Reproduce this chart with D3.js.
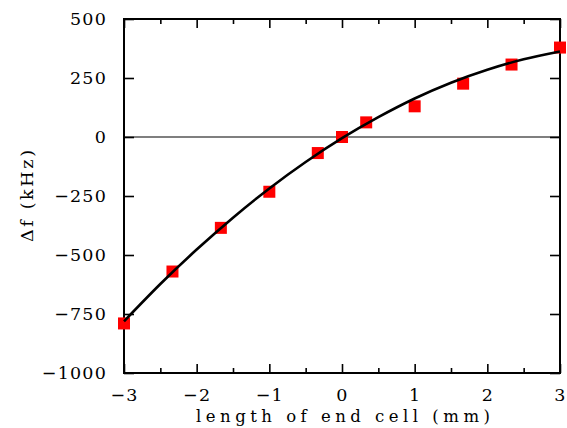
<!DOCTYPE html>
<html><head><meta charset="utf-8">
<script src="https://cdn.jsdelivr.net/npm/d3@7"></script>
<style>body{margin:0;background:#fff}svg{display:block}</style>
</head><body>
<script>
// measured points
const xData = [-3, -2.333, -1.667, -1, -0.333, 0, 0.333, 1, 1.667, 2.333, 3];
const yData = [-790, -570, -385, -232, -68, 0, 62, 130, 226, 307, 379];
// fitted curve
const xCurve = [-3, -2.5, -2, -1.5, -1, -0.5, 0, 0.5, 1, 1.5, 2, 2.5, 3];
const yCurve = [-781, -623, -477, -342, -218, -106, -5, 84, 163, 230, 285, 329, 362];
const xTicks = [-3, -2, -1, 0, 1, 2, 3];
const xMinor = [-2.5, -1.5, -0.5, 0.5, 1.5, 2.5];
const yTicks = [-1000, -750, -500, -250, 0, 250, 500];
const xTitle = "length of end cell (mm)";
const yTitle = "\u0394f (kHz)";

const W = 567, H = 428;
const L = 124, R = 560, T = 19, B = 373;
const font = "'DejaVu Serif', serif";
const fmt = v => (v < 0 ? "\u2212" + Math.abs(v) : String(v));

const svg = d3.select("body").append("svg").attr("width", W).attr("height", H);
const x = d3.scaleLinear().domain([-3, 3]).range([L, R]);
const y = d3.scaleLinear().domain([-1000, 500]).range([B, T]);

// zero line
svg.append("line").attr("x1", L).attr("x2", R).attr("y1", y(0)).attr("y2", y(0))
  .attr("stroke", "#555").attr("stroke-width", 1.3);

// axes with inward ticks
const axB = d3.axisBottom(x).tickValues(xTicks).tickSizeInner(-9).tickSizeOuter(0).tickFormat(fmt).tickPadding(15.5);
const axBm = d3.axisBottom(x).tickValues(xMinor).tickSizeInner(-5).tickSizeOuter(0).tickFormat("");
const axT = d3.axisTop(x).tickValues(xTicks).tickSizeInner(-9).tickSizeOuter(0).tickFormat("");
const axTm = d3.axisTop(x).tickValues(xMinor).tickSizeInner(-5).tickSizeOuter(0).tickFormat("");
const axL = d3.axisLeft(y).tickValues(yTicks).tickSizeInner(-10).tickSizeOuter(0).tickFormat(fmt).tickPadding(17);
const axR = d3.axisRight(y).tickValues(yTicks).tickSizeInner(-10).tickSizeOuter(0).tickFormat("");

function styleAx(g) {
  g.select(".domain").remove();
  g.selectAll(".tick line").attr("stroke", "#000").attr("stroke-width", 1.6);
  g.selectAll("text").attr("font-family", font).attr("font-size", 17.5).attr("fill", "#000")
    .attr("letter-spacing", 1.2);
}
svg.append("g").attr("transform", `translate(0,${B})`).call(axB).call(styleAx);
svg.append("g").attr("transform", `translate(0,${B})`).call(axBm).call(styleAx);
svg.append("g").attr("transform", `translate(0,${T})`).call(axT).call(styleAx);
svg.append("g").attr("transform", `translate(0,${T})`).call(axTm).call(styleAx);
svg.append("g").attr("transform", `translate(${L},0)`).call(axL).call(styleAx);
svg.append("g").attr("transform", `translate(${R},0)`).call(axR).call(styleAx);

// frame
svg.append("rect").attr("x", L).attr("y", T).attr("width", R - L).attr("height", B - T)
  .attr("fill", "none").attr("stroke", "#000").attr("stroke-width", 2);

// markers
const ms = 12;
svg.append("g").selectAll("rect").data(xData.map((d, i) => [d, yData[i]])).join("rect")
  .attr("x", d => x(d[0]) - ms / 2).attr("y", d => y(d[1]) - ms / 2)
  .attr("width", ms).attr("height", ms).attr("fill", "#ff0000");

// curve
const line = d3.line().x(d => x(d[0])).y(d => y(d[1])).curve(d3.curveNatural);
svg.append("path").datum(xCurve.map((d, i) => [d, yCurve[i]]))
  .attr("d", line).attr("fill", "none").attr("stroke", "#000").attr("stroke-width", 2.6);

// titles
svg.append("text").attr("x", 196).attr("y", 421.5)
  .attr("font-family", font).attr("font-size", 16.5)
  .attr("textLength", 294).attr("lengthAdjust", "spacing").text(xTitle);
svg.append("text").attr("transform", "translate(33,242) rotate(-90)")
  .attr("font-family", font).attr("font-size", 17.5)
  .attr("textLength", 92).attr("lengthAdjust", "spacing").text(yTitle);
</script>
</body></html>
